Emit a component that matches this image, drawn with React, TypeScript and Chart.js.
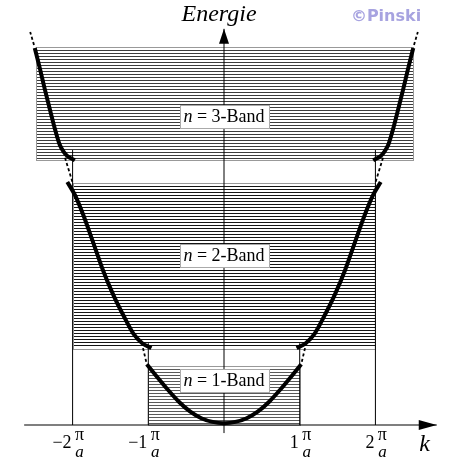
import React, { useEffect, useRef } from "react";
import { Chart, registerables } from "chart.js";
Chart.register(...registerables);

const W = 449;
const H = 466;

// k in units of π/a, E in arbitrary energy units
const bandNumbers = ["1", "2", "3"];
const bandKMin = [-1, -2, -2.49];
const bandKMax = [1, 2, 2.49];
const bandEMin = [0, 1.23, 4.27];
const bandEMax = [0.95, 3.9, 6.1];
const bandLabelE = [0.72, 2.73, 4.98];
const bandHatchColor = ["#5a5a5a", "#151515", "#3c3c3c"];

// band curves
const band1K = [-1.02, -0.9, -0.75, -0.6, -0.45, -0.3, -0.15, 0, 0.15, 0.3, 0.45, 0.6, 0.75, 0.9, 1.02];
const band1E = [0.98, 0.8, 0.58, 0.38, 0.22, 0.11, 0.05, 0.03, 0.05, 0.11, 0.22, 0.38, 0.58, 0.8, 0.98];

const band2LeftK = [-2.07, -1.97, -1.86, -1.73, -1.6, -1.47, -1.33, -1.2, -1.08, -0.96];
const band2LeftE = [3.92, 3.71, 3.39, 2.95, 2.5, 2.12, 1.77, 1.48, 1.32, 1.24];
const band2RightK = [0.96, 1.08, 1.2, 1.33, 1.47, 1.6, 1.73, 1.86, 1.97, 2.07];
const band2RightE = [1.24, 1.32, 1.48, 1.77, 2.12, 2.5, 2.95, 3.39, 3.71, 3.92];

const band3LeftK = [-2.5, -2.43, -2.37, -2.3, -2.23, -2.17, -2.12, -2.07, -1.97];
const band3LeftE = [6.08, 5.74, 5.43, 5.09, 4.76, 4.52, 4.41, 4.34, 4.27];
const band3RightK = [1.97, 2.07, 2.12, 2.17, 2.23, 2.3, 2.37, 2.43, 2.5];
const band3RightE = [4.27, 4.34, 4.41, 4.52, 4.76, 5.09, 5.43, 5.74, 6.08];

// free-electron parabola pieces (dashed)
const dashSegK = [
  [-2.51, -2.56], [2.51, 2.56],
  [-2.1, -1.995], [2.1, 1.995],
  [-1.07, -1.02], [1.07, 1.02],
];
const dashSegE = [
  [6.13, 6.34], [6.13, 6.34],
  [4.31, 3.89], [4.31, 3.89],
  [1.24, 0.98], [1.24, 0.98],
];

// vertical guide lines at zone boundaries
const gridK = [-2, -1, 1, 2];
const gridTopE = [4.435, 1.32, 1.32, 4.435];

// axes
const xAxisK = [-2.64, 2.81];
const yAxisE = [-0.13, 6.39];

// tick labels
const tickValues = [-2, -1, 1, 2];
const tickNumbers = ["\u22122", "\u22121", "1", "2"];

const pts = (xs: number[], ys: number[]) => xs.map((x, i) => ({ x, y: ys[i] }));

const SERIF = "'Liberation Serif', 'Times New Roman', serif";

export default function App() {
  const ref = useRef<HTMLCanvasElement>(null);

  useEffect(() => {
    document.body.style.margin = "0";
    const canvas = ref.current!;

    const curve = (xs: number[], ys: number[]) => ({
      data: pts(xs, ys),
      showLine: true,
      borderColor: "#000",
      borderWidth: 4,
      pointRadius: 0,
      cubicInterpolationMode: "monotone" as const,
      borderCapStyle: "butt" as const,
      borderJoinStyle: "round" as const,
    });
    const thin = (xs: number[], ys: number[], dash: number[] = [], w = 1) => ({
      data: pts(xs, ys),
      showLine: true,
      borderColor: "#000",
      borderWidth: w,
      borderDash: dash,
      pointRadius: 0,
    });

    const datasets: any[] = [];
    gridK.forEach((k, i) => datasets.push(thin([k, k], [0, gridTopE[i]])));
    datasets.push(thin(xAxisK, [0, 0], [], 1.2));
    datasets.push(thin([0, 0], yAxisE));
    dashSegK.forEach((ks, i) => datasets.push(thin(ks, dashSegE[i], [3, 2.5], 1.8)));
    datasets.push(curve(band1K, band1E));
    datasets.push(curve(band2LeftK, band2LeftE));
    datasets.push(curve(band2RightK, band2RightE));
    datasets.push(curve(band3LeftK, band3LeftE));
    datasets.push(curve(band3RightK, band3RightE));

    const hatchPlugin = {
      id: "hatch",
      beforeDatasetsDraw(chart: any) {
        const ctx = chart.ctx;
        const xs = chart.scales.x;
        const ys = chart.scales.y;
        ctx.save();
        for (let b = 0; b < bandKMin.length; b++) {
          const x1 = Math.round(xs.getPixelForValue(bandKMin[b]));
          const x2 = Math.round(xs.getPixelForValue(bandKMax[b]));
          const yTop = Math.round(ys.getPixelForValue(bandEMax[b]));
          const yBot = Math.round(ys.getPixelForValue(bandEMin[b]));
          ctx.strokeStyle = bandHatchColor[b];
          ctx.lineWidth = 1;
          ctx.beginPath();
          for (let y = yTop + 3; y < yBot - 1; y += 3) {
            ctx.moveTo(x1, y + 0.5);
            ctx.lineTo(x2, y + 0.5);
          }
          ctx.stroke();
          ctx.strokeStyle = "#999";
          ctx.strokeRect(x1 + 0.5, yTop + 0.5, x2 - x1, yBot - yTop);
        }
        ctx.restore();
      },
    };

    const textPlugin = {
      id: "texts",
      afterDatasetsDraw(chart: any) {
        const ctx = chart.ctx;
        const xs = chart.scales.x;
        const ys = chart.scales.y;
        const x0 = xs.getPixelForValue(0);
        const y0 = ys.getPixelForValue(0);
        ctx.save();

        // arrow heads
        const yTip = ys.getPixelForValue(yAxisE[1]);
        ctx.fillStyle = "#000";
        ctx.beginPath();
        ctx.moveTo(x0, yTip);
        ctx.lineTo(x0 - 5, yTip + 15);
        ctx.lineTo(x0 + 5, yTip + 15);
        ctx.closePath();
        ctx.fill();
        const xTip = xs.getPixelForValue(xAxisK[1]);
        ctx.beginPath();
        ctx.moveTo(xTip, y0);
        ctx.lineTo(xTip - 18, y0 - 5);
        ctx.lineTo(xTip - 18, y0 + 5);
        ctx.closePath();
        ctx.fill();

        // band labels
        for (let b = 0; b < bandNumbers.length; b++) {
          const cy = ys.getPixelForValue(bandLabelE[b]);
          const bw = 89;
          const bh = 23;
          const bx = Math.round(x0 - bw / 2) + 0.5;
          const by = Math.round(cy - bh / 2) + 0.5;
          ctx.fillStyle = "#fff";
          ctx.fillRect(bx, by, bw, bh);
          ctx.strokeStyle = "#aaa";
          ctx.lineWidth = 1;
          ctx.strokeRect(bx, by, bw, bh);
          const part1 = "n";
          const part2 = " = " + bandNumbers[b] + "-Band";
          ctx.font = `italic 18px ${SERIF}`;
          const w1 = ctx.measureText(part1).width;
          ctx.font = `18px ${SERIF}`;
          const w2 = ctx.measureText(part2).width;
          const sx = x0 - (w1 + w2) / 2;
          ctx.fillStyle = "#000";
          ctx.textBaseline = "middle";
          ctx.textAlign = "left";
          ctx.font = `italic 18px ${SERIF}`;
          ctx.fillText(part1, sx, cy + 1);
          ctx.font = `18px ${SERIF}`;
          ctx.fillText(part2, sx + w1, cy + 1);
        }

        // tick labels: number, then π over a
        for (let i = 0; i < tickValues.length; i++) {
          const px = xs.getPixelForValue(tickValues[i]);
          ctx.fillStyle = "#000";
          ctx.textBaseline = "middle";
          ctx.textAlign = "right";
          ctx.font = `18px ${SERIF}`;
          ctx.fillText(tickNumbers[i], px - 1, y0 + 18);
          ctx.textAlign = "center";
          ctx.font = `18px ${SERIF}`;
          ctx.fillText("\u03c0", px + 7, y0 + 10);
          ctx.font = `italic 17px ${SERIF}`;
          ctx.fillText("a", px + 7, y0 + 28);
        }

        // axis titles
        ctx.textAlign = "center";
        ctx.textBaseline = "middle";
        ctx.font = `italic 24px ${SERIF}`;
        ctx.fillText("k", xs.getPixelForValue(2.65), y0 + 20);
        ctx.fillText("Energie", x0 - 5, yTip - 14);

        // watermark
        ctx.fillStyle = "#a7a3e0";
        ctx.font = `bold 16px 'DejaVu Sans', sans-serif`;
        ctx.fillText("\u00a9Pinski", 386, 17);

        ctx.restore();
      },
    };

    const chart = new Chart(canvas, {
      type: "scatter",
      data: { datasets },
      options: {
        responsive: false,
        animation: false,
        events: [],
        layout: { padding: 0 },
        plugins: { legend: { display: false }, tooltip: { enabled: false }, title: { display: false } },
        scales: {
          x: { type: "linear", min: -2.959, max: 2.972, display: false },
          y: { type: "linear", min: -0.661, max: 6.855, display: false },
        },
      },
      plugins: [hatchPlugin, textPlugin],
    });
    return () => chart.destroy();
  }, []);

  return (
    <div style={{ width: W, height: H, background: "#fff" }}>
      <canvas ref={ref} width={W} height={H} style={{ display: "block", width: W, height: H }} />
    </div>
  );
}
